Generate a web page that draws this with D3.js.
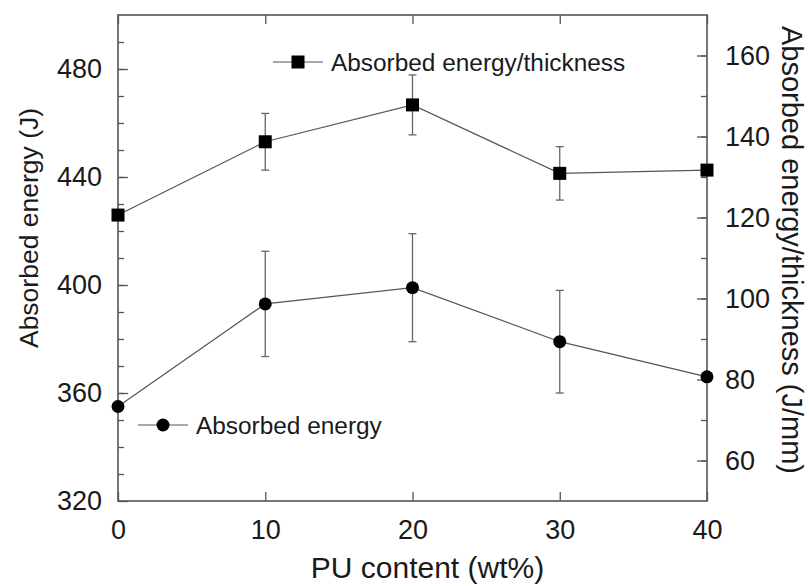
<!DOCTYPE html>
<html>
<head>
<meta charset="utf-8">
<script src="https://cdn.jsdelivr.net/npm/d3@7"></script>
<style>
  body { margin: 0; background: #fff; }
  svg text { font-family: "Liberation Sans", Arial, sans-serif; fill: #1a1a1a; }
</style>
</head>
<body>
<div id="chart"></div>
<script>
// data
const puContent = [0, 10, 20, 30, 40];
const absorbedEnergy = [355, 393, 399, 379, 366];
const absorbedEnergyErr = [null, 19.5, 20, 19, null];
const energyPerThickness = [120.6, 138.7, 147.8, 130.9, 131.7];
const energyPerThicknessErr = [null, 7, 7.4, 6.6, null];
const xTicks = [0, 10, 20, 30, 40];
const leftTicks = [320, 360, 400, 440, 480];
const rightTicks = [60, 80, 100, 120, 140, 160];

const width = 811, height = 586;
const margin = { top: 15, right: 104, bottom: 85, left: 118 };
const innerW = width - margin.left - margin.right;
const innerH = height - margin.top - margin.bottom;

const svg = d3.select("#chart").append("svg")
    .attr("width", width)
    .attr("height", height);

const g = svg.append("g")
    .attr("transform", `translate(${margin.left},${margin.top})`);

const x = d3.scaleLinear().domain([0, 40]).range([0, innerW]);
const yL = d3.scaleLinear().domain([320, 500]).range([innerH, 0]);
const yR = d3.scaleLinear().domain([50, 170]).range([innerH, 0]);

const axisColor = "#555";

// frame
g.append("rect")
    .attr("width", innerW)
    .attr("height", innerH)
    .attr("fill", "none")
    .attr("stroke", axisColor)
    .attr("stroke-width", 1.6);

// helper to style an axis: no domain path, inward ticks
function styleAxis(sel) {
    sel.select(".domain").remove();
    sel.selectAll(".tick line").attr("stroke", axisColor).attr("stroke-width", 1.3);
    sel.selectAll(".tick text").style("font-size", "27px").attr("fill", "#1a1a1a");
}

// bottom axis
g.append("g")
    .attr("transform", `translate(0,${innerH})`)
    .call(d3.axisBottom(x).tickValues(xTicks).tickSizeInner(-9).tickPadding(19).tickFormat(d3.format("d")))
    .call(styleAxis);

// top ticks
g.append("g")
    .call(d3.axisTop(x).tickValues(xTicks).tickSizeInner(-9).tickFormat(""))
    .call(styleAxis);

// left axis: minor then major
g.append("g")
    .call(d3.axisLeft(yL).tickValues(d3.range(330, 500, 10)).tickSizeInner(-6).tickFormat(""))
    .call(styleAxis);
g.append("g")
    .call(d3.axisLeft(yL).tickValues(leftTicks).tickSizeInner(-10).tickPadding(16).tickFormat(d3.format("d")))
    .call(styleAxis);

// right axis
g.append("g")
    .attr("transform", `translate(${innerW},0)`)
    .call(d3.axisRight(yR).tickValues(d3.range(60, 170, 10)).tickSizeInner(-6).tickFormat(""))
    .call(styleAxis);
g.append("g")
    .attr("transform", `translate(${innerW},0)`)
    .call(d3.axisRight(yR).tickValues(rightTicks).tickSizeInner(-10).tickPadding(18).tickFormat(d3.format("d")))
    .call(styleAxis);

// series
const series = [
    { vals: absorbedEnergy, err: absorbedEnergyErr, y: yL, marker: "circle" },
    { vals: energyPerThickness, err: energyPerThicknessErr, y: yR, marker: "square" }
];

series.forEach(s => {
    const pts = puContent.map((p, i) => ({ p, v: s.vals[i], e: s.err[i] }));

    // error bars
    const eb = g.append("g").selectAll("g.err")
        .data(pts.filter(d => d.e != null))
        .join("g")
        .attr("stroke", "#666")
        .attr("stroke-width", 1.3);
    eb.append("line")
        .attr("x1", d => x(d.p)).attr("x2", d => x(d.p))
        .attr("y1", d => s.y(d.v - d.e)).attr("y2", d => s.y(d.v + d.e));
    eb.append("line")
        .attr("x1", d => x(d.p) - 4).attr("x2", d => x(d.p) + 4)
        .attr("y1", d => s.y(d.v + d.e)).attr("y2", d => s.y(d.v + d.e));
    eb.append("line")
        .attr("x1", d => x(d.p) - 4).attr("x2", d => x(d.p) + 4)
        .attr("y1", d => s.y(d.v - d.e)).attr("y2", d => s.y(d.v - d.e));

    g.append("path")
        .datum(pts)
        .attr("fill", "none")
        .attr("stroke", "#555")
        .attr("stroke-width", 1.2)
        .attr("d", d3.line().x(d => x(d.p)).y(d => s.y(d.v)));

    if (s.marker === "circle") {
        g.selectAll(null).data(pts).join("circle")
            .attr("cx", d => x(d.p)).attr("cy", d => s.y(d.v))
            .attr("r", 6.5).attr("fill", "#000");
    } else {
        g.selectAll(null).data(pts).join("rect")
            .attr("x", d => x(d.p) - 6.5).attr("y", d => s.y(d.v) - 6.5)
            .attr("width", 13).attr("height", 13).attr("fill", "#000");
    }
});

// legends
function legend(lx, ly, marker, label) {
    const lg = svg.append("g").attr("transform", `translate(${lx},${ly})`);
    lg.append("line").attr("x1", 0).attr("x2", 50).attr("stroke", "#555").attr("stroke-width", 1.2);
    if (marker === "circle") lg.append("circle").attr("cx", 25).attr("r", 6.5).attr("fill", "#000");
    else lg.append("rect").attr("x", 18.5).attr("y", -6.5).attr("width", 13).attr("height", 13).attr("fill", "#000");
    lg.append("text").attr("x", 58).attr("dy", "0.35em").style("font-size", "24.4px").text(label);
}
legend(273, 62, "square", "Absorbed energy/thickness");
legend(138, 425, "circle", "Absorbed energy");

// axis titles
svg.append("text")
    .attr("x", 427.5).attr("y", 578)
    .attr("text-anchor", "middle")
    .style("font-size", "30px")
    .text("PU content (wt%)");

svg.append("text")
    .attr("transform", "translate(38,228) rotate(-90)")
    .attr("text-anchor", "middle")
    .style("font-size", "26.5px")
    .text("Absorbed energy (J)");

svg.append("text")
    .attr("transform", "translate(782,250) rotate(90)")
    .attr("text-anchor", "middle")
    .style("font-size", "29px")
    .text("Absorbed energy/thickness (J/mm)");
</script>
</body>
</html>
